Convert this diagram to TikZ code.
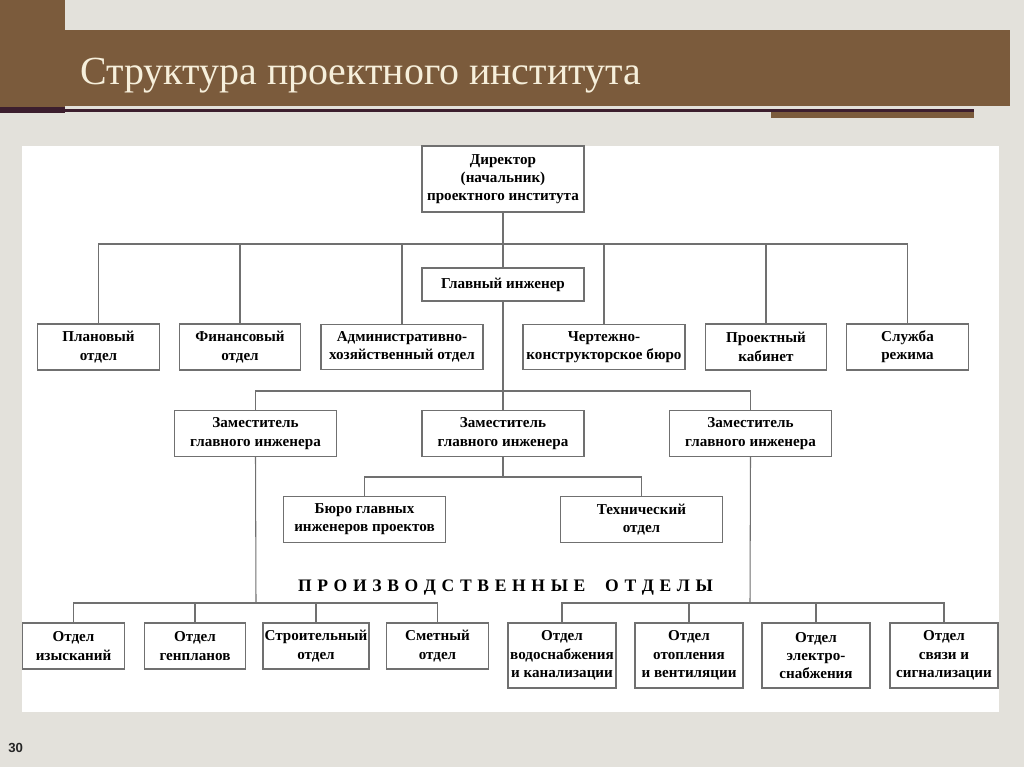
\documentclass[tikz,border=0pt]{standalone}
\usepackage{fontspec}
\setmainfont{Liberation Serif}
\newfontfamily\pagenumfont{Liberation Sans}
\definecolor{bandbrown}{HTML}{7B5B3C}
\definecolor{bandline}{HTML}{3C1E2E}
\definecolor{slidegray}{HTML}{E3E1DB}
\definecolor{titlecream}{HTML}{F6EFDB}
\definecolor{framegray}{HTML}{707070}
\newcommand\unitfont{\fontsize{8.6}{10.4}\selectfont\bfseries}
\begin{document}
\begin{tikzpicture}[x=0.02cm, y=-0.02cm,
  unit/.style={rectangle, draw=framegray, line width=0.8pt, fill=white, align=center, font=\unitfont, inner sep=1pt},
  dirbox/.style={unit, minimum width=3.24cm, minimum height=1.32cm},
  chiefbox/.style={unit, minimum width=3.24cm, minimum height=0.66cm},
  widebox/.style={unit, minimum width=3.24cm, minimum height=0.91cm},
  narrowbox/.style={unit, minimum width=2.43cm, minimum height=0.92cm},
  smallbox/.style={unit, minimum width=2.03cm, minimum height=0.92cm},
  tallbox/.style={unit, minimum width=2.16cm, minimum height=1.30cm},
  link/.style={draw=framegray, line width=0.6pt}
]
  %% ── Slide background and header ───────────────────────────────────────────
  \fill[slidegray] (0,0) rectangle (1024,767);
  \useasboundingbox (0,0) rectangle (1024,767);
  \fill[bandbrown] (0,0) rectangle (65,107);
  \fill[bandbrown] (0,30) rectangle (1010,106);
  \fill[bandline] (0,107) rectangle (65,113);
  \fill[bandline] (65,109) rectangle (974,112);
  \fill[bandbrown] (771,112) rectangle (974,118);
  \node[anchor=base west, text=titlecream, font=\fontsize{22.7}{27}\selectfont, inner sep=0pt]
    (title) at (80,85) {Структура проектного института};
  \fill[white] (22,146) rectangle (999,712);
  \node[anchor=base west, font=\pagenumfont\fontsize{7.5}{9}\selectfont\bfseries, text=black!85, inner sep=0pt]
    (pagenum) at (8,752) {30};

  %% ── Top management ────────────────────────────────────────────────────────
  \node[dirbox] (dir) at (503,179) {Директор\\(начальник)\\проектного института};
  \node[chiefbox] (chief) at (503,284.5) {Главный инженер};

  %% ── Row 1: services under the director ───────────────────────────────────
  \node[narrowbox] (plan) at (98.5,347) {Плановый\\отдел};
  \node[narrowbox] (fin) at (240,347) {Финансовый\\отдел};
  \node[widebox] (admin) at (402,347) {Административно-\\хозяйственный отдел};
  \node[widebox] (draft) at (604,347) {Чертежно-\\конструкторское бюро};
  \node[narrowbox] (cabinet) at (766,347) {Проектный\\кабинет};
  \node[narrowbox] (regime) at (907.5,347) {Служба\\режима};

  %% ── Row 2: deputies of the chief engineer ────────────────────────────────
  \node[widebox] (depL) at (255.5,433.5) {Заместитель\\главного инженера};
  \node[widebox] (depM) at (503,433.5) {Заместитель\\главного инженера};
  \node[widebox] (depR) at (750.5,433.5) {Заместитель\\главного инженера};

  %% ── Row 3: bureau and technical department ───────────────────────────────
  \node[widebox] (bureau) at (364.5,519.5) {Бюро главных\\инженеров проектов};
  \node[widebox] (tech) at (641.5,519.5) {Технический\\отдел};

  \node[font=\fontsize{10}{12}\selectfont\bfseries, inner sep=0pt] (prodlabel) at (505.5,588)
    {\makebox[8.3cm][s]{П\hfill Р\hfill О\hfill И\hfill З\hfill В\hfill О\hfill Д\hfill С\hfill Т\hfill В\hfill
      Е\hfill Н\hfill Н\hfill Ы\hfill Е\hspace{0pt plus 3.5fill}О\hfill Т\hfill Д\hfill Е\hfill Л\hfill Ы}};

  %% ── Row 4: production departments ────────────────────────────────────────
  \node[smallbox] (survey) at (73.5,646) {Отдел\\изысканий};
  \node[smallbox] (genplan) at (195,646) {Отдел\\генпланов};
  \node[smallbox] (build) at (316,646) {Строительный\\отдел};
  \node[smallbox] (estimate) at (437.5,646) {Сметный\\отдел};
  \node[tallbox] (water) at (562,655.5) {Отдел\\водоснабжения\\и канализации};
  \node[tallbox] (heat) at (689,655.5) {Отдел\\отопления\\и вентиляции};
  \node[tallbox] (power) at (816,655.5) {Отдел\\электро-\\снабжения};
  \node[tallbox] (signal) at (944,655.5) {Отдел\\связи и\\сигнализации};

  %% ── Connectors ────────────────────────────────────────────────────────────
  \coordinate (busA) at (503,244);
  \coordinate (busB) at (503,391);
  \coordinate (busC) at (503,477);
  \coordinate (busL) at (256,603);
  \coordinate (busR) at (750,603);
  % director → chief engineer → middle deputy
  \draw[link] (dir.south) -- (chief.north);
  \draw[link] (chief.south) -- (depM.north);
  % director → services
  \draw[link] (plan.north) |- (busA) -| (regime.north);
  \foreach \n in {fin,admin,draft,cabinet}
    \draw[link] (\n.north) -- (\n.north |- busA);
  % chief engineer → deputies
  \draw[link] (depL.north) |- (busB) -| (depR.north);
  % middle deputy → bureau, technical department
  \draw[link] (depM.south) -- (busC);
  \draw[link] (bureau.north) |- (busC) -| (tech.north);
  % left deputy → production departments
  \draw[link] (depL.south) -- (busL);
  \draw[link] (survey.north) |- (busL) -| (estimate.north);
  \foreach \n in {genplan,build}
    \draw[link] (\n.north) -- (\n.north |- busL);
  % right deputy → production departments
  \draw[link] (depR.south) -- (busR);
  \draw[link] (water.north) |- (busR) -| (signal.north);
  \foreach \n in {heat,power}
    \draw[link] (\n.north) -- (\n.north |- busR);
\end{tikzpicture}
\end{document}
